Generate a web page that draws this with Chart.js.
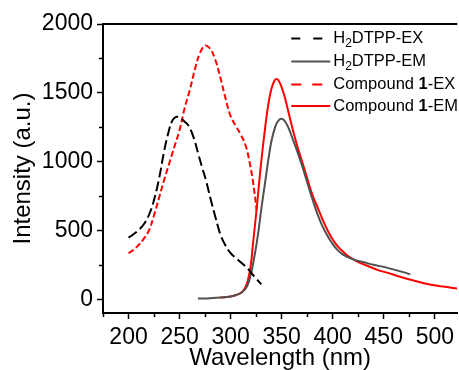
<!DOCTYPE html>
<html><head><meta charset="utf-8">
<script src="https://cdn.jsdelivr.net/npm/chart.js@4/dist/chart.umd.min.js"></script>
<style>html,body{margin:0;padding:0;background:#fff;overflow:hidden}canvas{display:block}</style>
</head><body>
<canvas id="c" width="459" height="370"></canvas>
<script>
// ---- data ----
const xTicks = [200, 250, 300, 350, 400, 450, 500];
const yTicks = [0, 500, 1000, 1500, 2000];
const xMinor = [175, 225, 275, 325, 375, 425, 475];
const yMinor = [250, 750, 1250, 1750];
const seriesLabels = ['H₂DTPP-EX', 'H₂DTPP-EM', 'Compound 1-EX', 'Compound 1-EM'];

const h2ExX = [200,208,216,222,226,230,235,239,243,247,251,255,259,264,268,272,276,280,285,290,295,300,305,310,315,320,325,330];
const h2ExY = [448,490,556,650,750,880,1080,1209,1300,1326,1315,1290,1258,1170,1064,960,860,740,600,470,390,335,300,268,235,194,150,109];

const h2EmX = [268,280,290,300,305,310,315,318,321,324,327,330,334,337,340,344,347,350,353,357,361,365,370,375,380,385,390,395,400,405,410,420,430,440,450,460,470,476];
const h2EmY = [5,8,12,20,30,45,80,130,220,339,480,653,860,1016,1150,1260,1300,1311,1295,1240,1160,1080,970,850,730,620,530,460,400,355,325,290,270,250,235,215,195,181];

const c1ExX = [200,205,210,215,220,225,230,235,240,245,250,255,260,265,270,275,280,285,290,295,300,305,310,315,319,322,325.5];
const c1ExY = [334,360,395,440,500,610,740,870,990,1110,1230,1390,1520,1669,1790,1843,1820,1740,1610,1460,1330,1260,1195,1110,980,850,650];

const c1EmX = [290,300,305,310,314,317,320,322,325,327,330,334,337,340,343,345,347,350,353,356,360,365,370,375,380,386,390,395,402,408,415,425,435,445,455,465,480,495,510,522];
const c1EmY = [12,20,30,45,80,140,260,411,620,774,1000,1258,1420,1530,1590,1601,1590,1540,1470,1380,1258,1120,1000,880,760,653,580,500,411,360,314,270,240,210,190,165,135,107,90,78];

const toPts = (xs, ys) => xs.map((x, i) => ({x, y: ys[i]}));

const FONT = '"Liberation Sans", Arial, sans-serif';

function drawRuns(ctx, label, x, y, size) {
  const runs = [];
  if (label.includes('₂')) {
    const p = label.split('₂');
    runs.push({t: p[0]}, {t: '2', sub: true}, {t: p[1]});
  } else if (label.includes(' 1-')) {
    const idx = label.indexOf(' 1-');
    runs.push({t: label.slice(0, idx + 1)}, {t: '1', bold: true}, {t: label.slice(idx + 2)});
  } else runs.push({t: label});
  let cx = x;
  ctx.textBaseline = 'middle';
  ctx.textAlign = 'left';
  ctx.fillStyle = '#000';
  runs.forEach(r => {
    const fs = r.sub ? Math.round(size * 0.7) : size;
    ctx.font = (r.bold ? 'bold ' : '') + fs + 'px ' + FONT;
    ctx.fillText(r.t, cx, r.sub ? y + 5 : y);
    cx += ctx.measureText(r.t).width;
  });
}

const extras = {
  id: 'extras',
  afterDraw(chart) {
    const ctx = chart.ctx;
    const {left, right, top, bottom} = chart.chartArea;
    const xs = chart.scales.x, ys = chart.scales.y;
    ctx.save();
    ctx.strokeStyle = '#000';
    ctx.lineWidth = 2;
    ctx.beginPath(); ctx.moveTo(left - 1, top); ctx.lineTo(right, top); ctx.stroke();
    ctx.lineWidth = 1.5;
    xMinor.forEach(v => {
      const px = Math.round(xs.getPixelForValue(v)) + 0.5;
      ctx.beginPath(); ctx.moveTo(px, bottom); ctx.lineTo(px, bottom + 4); ctx.stroke();
    });
    yMinor.forEach(v => {
      const py = Math.round(ys.getPixelForValue(v)) + 0.5;
      ctx.beginPath(); ctx.moveTo(left, py); ctx.lineTo(left - 4, py); ctx.stroke();
    });
    const x0 = right - 166, x1 = right - 127, tx = right - 124;
    const rows = [top + 14.5, top + 37.5, top + 60.5, top + 82];
    chart.data.datasets.forEach((ds, i) => {
      const y = rows[i];
      ctx.strokeStyle = ds.borderColor;
      ctx.lineWidth = 2;
      ctx.setLineDash(ds.legendDash || []);
      ctx.beginPath(); ctx.moveTo(x0, y); ctx.lineTo(ds.legendDash ? x1 - 7 : x1, y); ctx.stroke();
      ctx.setLineDash([]);
      drawRuns(ctx, ds.label, tx, y, 16.5);
    });
    ctx.restore();
  }
};

const common = {pointRadius: 0, borderWidth: 2, fill: false, tension: 0.4};

new Chart(document.getElementById('c'), {
  type: 'line',
  data: {
    datasets: [
      {...common, label: seriesLabels[0], data: toPts(h2ExX, h2ExY), borderColor: '#000000', borderDash: [10, 4], legendDash: [9, 13]},
      {...common, label: seriesLabels[1], data: toPts(h2EmX, h2EmY), borderColor: '#505050'},
      {...common, label: seriesLabels[2], data: toPts(c1ExX, c1ExY), borderColor: '#ff0000', borderDash: [6, 3], legendDash: [10, 11]},
      {...common, label: seriesLabels[3], data: toPts(c1EmX, c1EmY), borderColor: '#ff0000'}
    ]
  },
  options: {
    responsive: false,
    animation: false,
    devicePixelRatio: 1,
    layout: {padding: {top: 24, right: 0, left: 0, bottom: 0}},
    plugins: {legend: {display: false}, tooltip: {enabled: false}},
    scales: {
      x: {
        type: 'linear', min: 175, max: 522,
        afterBuildTicks: s => { s.ticks = xTicks.map(v => ({value: v})); },
        afterFit: s => { s.height = 57; },
        border: {display: true, color: '#000', width: 2},
        grid: {display: true, drawOnChartArea: false, drawTicks: true, tickLength: 6, tickWidth: 1.5, tickColor: '#000'},
        ticks: {color: '#000', padding: 5, maxRotation: 0, autoSkip: false, font: {family: FONT, size: 23}, callback: v => String(v)},
        title: {display: true, text: 'Wavelength (nm)', color: '#000', font: {family: FONT, size: 24, lineHeight: 1}, padding: {top: 0, bottom: 0}}
      },
      y: {
        type: 'linear', min: -100, max: 2000,
        afterBuildTicks: s => { s.ticks = yTicks.map(v => ({value: v})); },
        afterFit: s => { s.width = 103; },
        border: {display: true, color: '#000', width: 2},
        grid: {display: true, drawOnChartArea: false, drawTicks: true, tickLength: 6, tickWidth: 1.5, tickColor: '#000'},
        ticks: {color: '#000', padding: 4, font: {family: FONT, size: 23}, callback: v => String(v)},
        title: {display: true, text: 'Intensity (a.u.)', color: '#000', font: {family: FONT, size: 24, lineHeight: 1}, padding: {top: 11, bottom: 0}}
      }
    }
  },
  plugins: [extras]
});
</script>
</body></html>
